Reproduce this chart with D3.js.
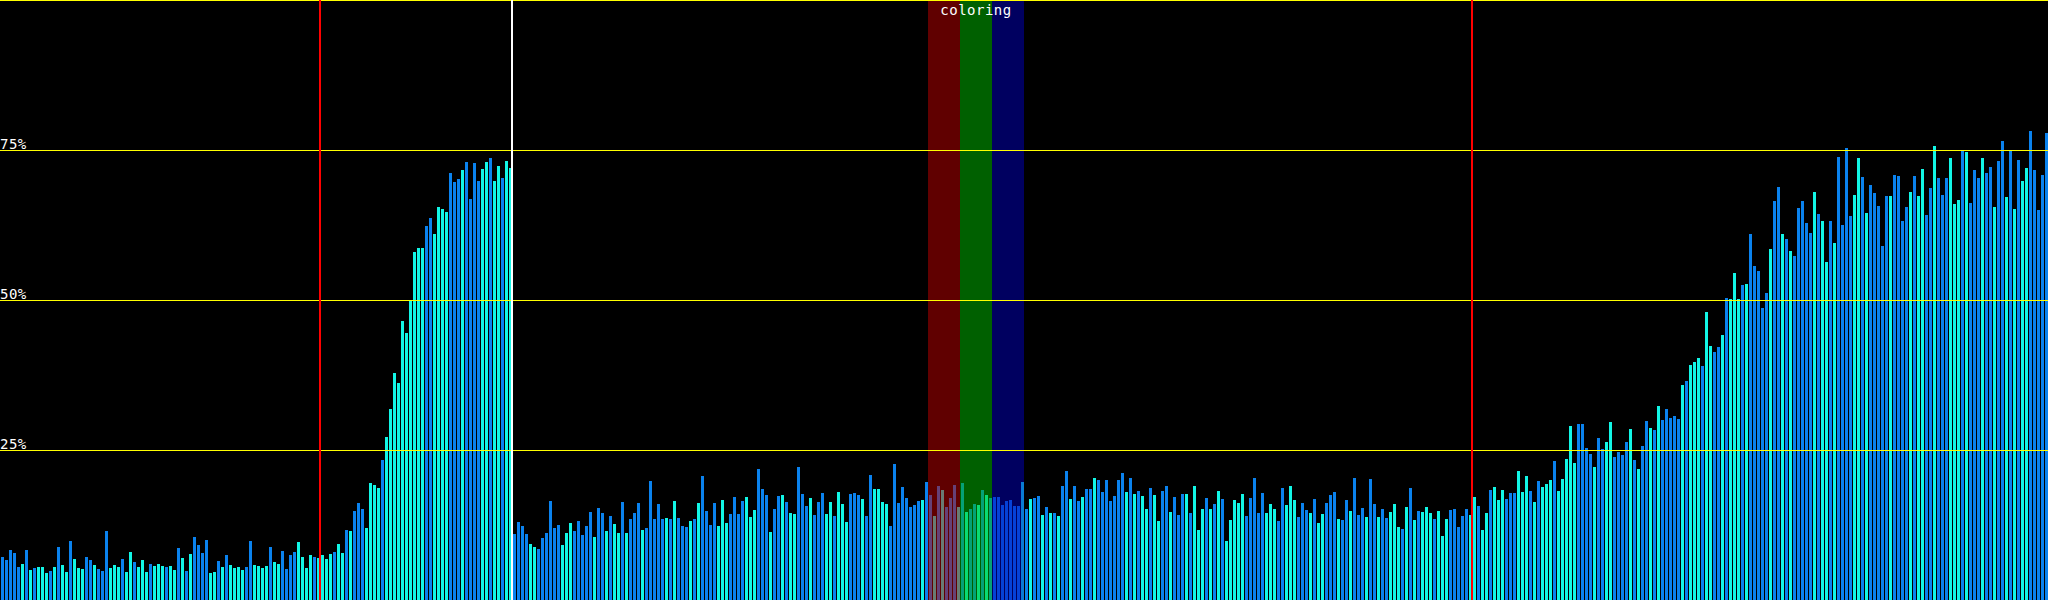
<!DOCTYPE html>
<html>
<head>
    <title>coloring</title>
    <meta charset="utf-8">
    <style type="text/css">
        body {
            margin: 0;
            background: #000;
        }

        .chart-svg {
            display: block;
            background: #000;
        }

        .bar {
            shape-rendering: crispEdges;
        }

        .grid line {
            stroke: #ffff00;
            stroke-width: 1;
            shape-rendering: crispEdges;
        }

        .label {
            font-family: "DejaVu Sans Mono", monospace;
            font-size: 14px;
            letter-spacing: 0.5px;
            fill: #ffffff;
        }
    </style>
</head>
<body>
<svg class="chart-svg" width="2048" height="600"></svg>

<script src="https://cdnjs.cloudflare.com/ajax/libs/d3/7.8.5/d3.min.js"></script>
<script type="text/javascript">
    /*=========DATA=========*/
    // load per frame (%), split at the marker lines
    var loadBeforeFirst = [
        7.2, 6.7, 8.3, 7.8, 5.5, 6.0, 8.3, 5.0, 5.3, 5.5, 5.5, 4.5, 4.8, 5.5, 8.8, 5.8,
        4.7, 9.8, 6.8, 5.3, 5.2, 7.2, 6.7, 5.8, 5.2, 4.8, 11.5, 5.3, 5.8, 5.5, 6.8, 4.7,
        8.0, 6.3, 5.5, 6.7, 4.7, 6.0, 5.7, 6.0, 5.7, 5.5, 5.7, 5.0, 8.7, 7.0, 4.8, 7.7,
        10.5, 9.2, 7.8, 10.0, 4.5, 4.7, 6.5, 5.5, 7.5, 5.8, 5.3, 5.5, 5.0, 5.5, 9.8, 5.8,
        5.7, 5.3, 5.7, 8.8, 6.3, 6.0, 8.2, 5.2, 7.5, 8.0, 9.7, 7.2, 5.3, 7.5, 7.2, 7.0
    ];
    var loadRampA = [
        7.5, 6.8, 7.7, 8.0, 9.3, 7.8, 11.7, 11.5, 14.8, 16.2, 15.2, 12.0, 19.5, 19.2, 18.7, 23.3,
        27.2, 31.8, 37.8, 36.2, 46.5, 44.5, 49.8, 58.0, 58.7, 58.7, 62.3, 63.7, 61.0, 65.5, 65.2, 64.7,
        71.2, 69.7, 70.2, 71.7, 73.0, 66.8, 72.8, 69.8, 71.8, 73.0, 73.7, 69.8, 72.3, 70.3, 73.2, 72.0
    ];
    var loadMiddle = [
        11.0, 13.0, 12.3, 11.0, 9.3, 8.8, 8.5, 10.3, 11.2, 16.5, 12.0, 12.5, 9.2, 11.2, 12.8, 11.5,
        13.2, 10.8, 12.3, 14.7, 10.5, 15.3, 14.5, 11.5, 14.0, 12.7, 11.2, 16.3, 11.2, 13.5, 14.5, 16.2,
        11.7, 12.0, 19.8, 13.5, 16.0, 13.5, 13.7, 13.5, 16.5, 13.7, 12.3, 12.2, 13.2, 13.5, 16.2, 20.7,
        14.8, 12.5, 16.2, 12.3, 16.7, 12.8, 14.3, 17.2, 14.3, 16.5, 17.2, 13.8, 15.0, 21.8, 18.5, 17.5,
        11.3, 15.2, 17.3, 17.5, 16.3, 14.5, 14.3, 22.2, 17.7, 15.7, 17.0, 14.2, 16.3, 17.8, 14.3, 16.3,
        14.0, 18.0, 16.0, 13.0, 17.7, 17.8, 17.5, 16.8, 14.0, 20.8, 18.5, 18.5, 16.3, 16.0, 12.3, 22.7,
        16.2, 18.8, 17.0, 15.5, 15.8, 16.5, 16.7, 19.7, 17.5, 14.0, 19.0, 18.3, 15.5, 17.0, 19.2, 15.5,
        19.5, 14.7, 15.2, 16.0, 15.8, 18.3, 17.5, 17.0, 17.2, 17.2, 15.8, 16.5, 16.7, 15.7, 15.7, 19.7,
        15.2, 16.8, 17.0, 17.3, 14.2, 15.5, 14.5, 14.5, 14.0, 19.0, 21.5, 16.8, 19.0, 16.5, 17.2, 18.5,
        18.5, 20.3, 20.0, 18.0, 20.0, 16.5, 17.3, 20.0, 21.2, 18.0, 20.3, 17.7, 18.2, 17.3, 15.2, 18.7,
        17.5, 13.2, 18.2, 19.0, 14.7, 17.2, 14.2, 17.7, 17.7, 14.5, 19.0, 11.7, 15.2, 17.0, 15.2, 16.0,
        18.2, 16.8, 9.8, 13.3, 16.7, 16.2, 17.7, 14.0, 17.0, 20.3, 14.5, 17.8, 14.5, 16.0, 15.2, 13.2,
        18.7, 15.8, 19.0, 16.7, 13.8, 16.2, 15.0, 14.5, 16.8, 12.8, 14.3, 16.2, 17.5, 18.0, 13.5, 13.3,
        16.7, 14.8, 20.3, 14.2, 15.3, 13.8, 20.2, 16.0, 13.8, 15.2, 13.7, 14.7, 16.0, 12.2, 11.8, 15.5,
        18.7, 13.3, 14.8, 14.7, 15.5, 14.5, 13.5, 14.8, 10.7, 13.5, 15.0, 15.2, 12.2, 14.0, 15.2, 14.2
    ];
    var loadRampB = [
        17.2, 15.7, 11.7, 14.5, 18.3, 18.8, 16.7, 18.3, 16.8, 17.8, 17.8, 21.5, 18.0, 20.7, 18.2, 16.3,
        19.8, 18.8, 19.3, 20.0, 23.2, 18.2, 20.2, 23.5, 29.0, 22.8, 29.3, 29.3, 25.3, 24.3, 22.2, 27.0,
        25.2, 26.3, 29.7, 23.8, 24.7, 24.2, 26.3, 28.5, 23.3, 21.8, 25.7, 29.8, 28.7, 28.3, 32.3, 30.0,
        31.8, 30.3, 30.7, 30.2, 35.8, 36.5, 39.2, 39.7, 40.3, 39.0, 48.0, 42.3, 41.3, 42.2, 44.2, 50.3,
        50.2, 54.5, 50.2, 52.5, 52.7, 61.0, 55.7, 54.8, 48.7, 51.2, 58.5, 66.5, 68.8, 61.0, 60.2, 58.2,
        57.3, 65.3, 66.5, 62.8, 61.2, 68.0, 64.3, 63.2, 56.3, 63.2, 59.5, 73.8, 62.5, 75.3, 64.0, 67.5,
        73.7, 70.5, 64.5, 69.2, 67.8, 65.7, 59.0, 67.3, 67.3, 70.8, 70.7, 63.2, 65.5, 68.0, 70.7, 67.3,
        71.8, 64.2, 68.7, 75.7, 70.3, 67.5, 70.3, 73.7, 66.0, 66.7, 74.8, 74.7, 66.2, 71.7, 70.3, 73.7,
        71.2, 72.2, 65.5, 73.2, 76.5, 67.2, 74.8, 65.2, 73.3, 69.8, 72.0, 78.2, 71.7, 65.0, 70.8, 77.8
    ];

    // frame kind per bar: b = blue, c = cyan (16 per row)
    var frameKinds = [
        "bbbbbcbcbcccbcbc", "cbcccbbcbbbcccbc", "cbcccbcccbccbcbc", "bbbbccbcbccccbbc",
        "cccbccbbbbccccbc", "cccbccbcbbbccccb", "ccccccccccbbcccc", "bbbcbbbbccbccbcc",
        "bbbbccbbbbbbcccb", "bbbbcbbcbccbcbbb", "cbbbbbcbcbbbcbcb", "bbbcccbbbbcccbbb",
        "cbbcbccbbbcbbbcc", "bcccbbbcbbccccbb", "bbbbbbcbbcbcbbbc", "bcbbcbcbbbbbbbbc",
        "bcbbcbcbcbbcbbcb", "bcbbbbbbbcbcbccb", "ccbbcbbbcbcccbcb", "cbcccccbbbbbcccb",
        "bcccbbbcbccbbbcb", "bcbbbcbbcbbcccbc", "bcbcccbcccbbbbbc", "cbccbcccbbbcccbc",
        "bcccbcccccbbbbcb", "bccbbbbcbcbbcbcb", "bbbbcbcccbccbbcb", "cccbcbbbbbcbbcbc",
        "bbbbbcbccbcbbbbc", "cbcbbbbbcbbbbcbc", "cbbcbbbcccbcbbbc", "bbcbbcbcbccbbbbb"
    ];

    var gridTicks = [25, 50, 75, 100];
    var tickLabels = ["25%", "50%", "75%", ""];
    var markerFrames = [80, 128, 368];
    var markerColors = ["#ff0000", "#ffffff", "#ff0000"];
    var bandStarts = [232, 240, 248];
    var bandEnds = [240, 248, 256];
    var bandColors = ["#c00000", "#00c000", "#0000c0"];
    var bandTitle = "coloring";

    /*===========COLOR=======*/
    var kindColor = { b: "#0a82ee", c: "#12f6e6" };

    /*=====SIZE SVG======*/
    var svgWidth = 2048;
    var svgHeight = 600;

    /*=========computed============*/
    var loads = loadBeforeFirst.concat(loadRampA, loadMiddle, loadRampB);
    var kinds = frameKinds.join("").split("");
    var frames = loads.map((v, i) => ({ i: i, v: v, k: kinds[i] }));

    // 比例尺
    var xBand = d3.scaleBand()
        .domain(d3.range(frames.length))
        .range([0, svgWidth])
        .paddingInner(0.25)
        .paddingOuter(0.125)
        .align(1);
    var xEdge = d3.scaleLinear().domain([0, frames.length]).range([0, svgWidth]);
    var yScale = d3.scaleLinear().domain([0, 100]).range([svgHeight, 0]);

    var svg = d3.select("svg");

    // bars
    svg.append("g").attr("class", "bars")
        .selectAll("rect")
        .data(frames)
        .join("rect")
        .attr("class", "bar")
        .attr("x", d => xBand(d.i))
        .attr("y", d => yScale(d.v))
        .attr("width", xBand.bandwidth())
        .attr("height", d => svgHeight - yScale(d.v))
        .attr("fill", d => kindColor[d.k]);

    // coloring bands over the bars
    svg.append("g").attr("class", "bands")
        .selectAll("rect")
        .data(bandStarts)
        .join("rect")
        .attr("x", d => xEdge(d))
        .attr("y", 0)
        .attr("width", (d, i) => xEdge(bandEnds[i]) - xEdge(d))
        .attr("height", svgHeight)
        .attr("fill", (d, i) => bandColors[i])
        .attr("fill-opacity", 0.5)
        .attr("shape-rendering", "crispEdges");

    // 基准线
    var grid = svg.append("g").attr("class", "grid");
    grid.selectAll("line")
        .data(gridTicks)
        .join("line")
        .attr("x1", 0)
        .attr("x2", svgWidth)
        .attr("y1", d => Math.min(yScale(d), svgHeight - 1) + 0.5)
        .attr("y2", d => Math.min(yScale(d), svgHeight - 1) + 0.5);

    // markers
    svg.append("g").attr("class", "markers")
        .selectAll("line")
        .data(markerFrames)
        .join("line")
        .attr("x1", d => xEdge(d))
        .attr("x2", d => xEdge(d))
        .attr("y1", 0)
        .attr("y2", svgHeight)
        .attr("stroke", (d, i) => markerColors[i])
        .attr("stroke-width", 2);

    // tick labels
    svg.append("g").attr("class", "ticks")
        .selectAll("text")
        .data(gridTicks)
        .join("text")
        .attr("class", "label")
        .attr("x", 0)
        .attr("y", d => yScale(d) - 1)
        .text((d, i) => tickLabels[i]);

    svg.append("text")
        .attr("class", "label")
        .attr("x", xEdge((bandStarts[0] + bandEnds[bandEnds.length - 1]) / 2))
        .attr("y", 15)
        .attr("text-anchor", "middle")
        .text(bandTitle);
</script>
</body>
</html>
